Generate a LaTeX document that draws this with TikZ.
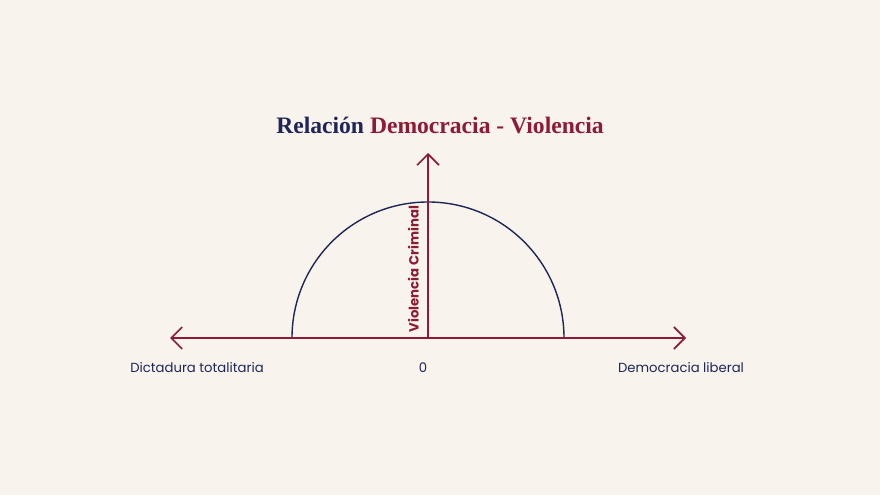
\documentclass[tikz,border=0pt]{standalone}
\usepackage{fontspec}
\setmainfont{Poppins}
\newfontfamily\titlefont{Liberation Serif}
\usetikzlibrary{arrows.meta,positioning}
\definecolor{fondo}{HTML}{F8F3EC}
\definecolor{rojo}{HTML}{8E1B33}
\definecolor{azul}{HTML}{1E2658}
\tikzset{
  eje/.style={draw=rojo,line width=1.4pt,-{Straight Barb[length=11pt,width=22pt,line width=1.6pt]}},
  rotulo/.style={text=azul,font=\fontsize{13.2}{15}\selectfont}
}
\begin{document}
\begin{tikzpicture}[x=1pt,y=1pt]
\pgfmathsetmacro{\r}{136}
\fill[fondo](0,0)rectangle(880,495);
\useasboundingbox(0,0)rectangle(880,495);
\coordinate(O)at(428,157);
\coordinate(izq)at(170,157);
\coordinate(der)at(686,157);
\coordinate(arr)at(428,342);
\draw[azul,line width=1.4pt]([xshift=-\r]O)arc(180:0:\r);
\draw[eje](O)--(izq);
\draw[eje](O)--(der);
\draw[eje](O)--(arr);
\node[anchor=base,font=\titlefont\bfseries\fontsize{23.6}{26}\selectfont](titulo)at(440,361){\textcolor{azul}{Relación} \textcolor{rojo}{Democracia - Violencia}};
\node[rotate=90,anchor=south,inner sep=2pt,text=rojo,font=\bfseries\fontsize{13.3}{15}\selectfont](vc)at(421,226){Violencia Criminal};
\node[rotulo](dict)at(197,127){Dictadura totalitaria};
\node[rotulo](cero)at(423,127){0};
\node[rotulo](demo)at(681,127){Democracia liberal};
\end{tikzpicture}
\end{document}
